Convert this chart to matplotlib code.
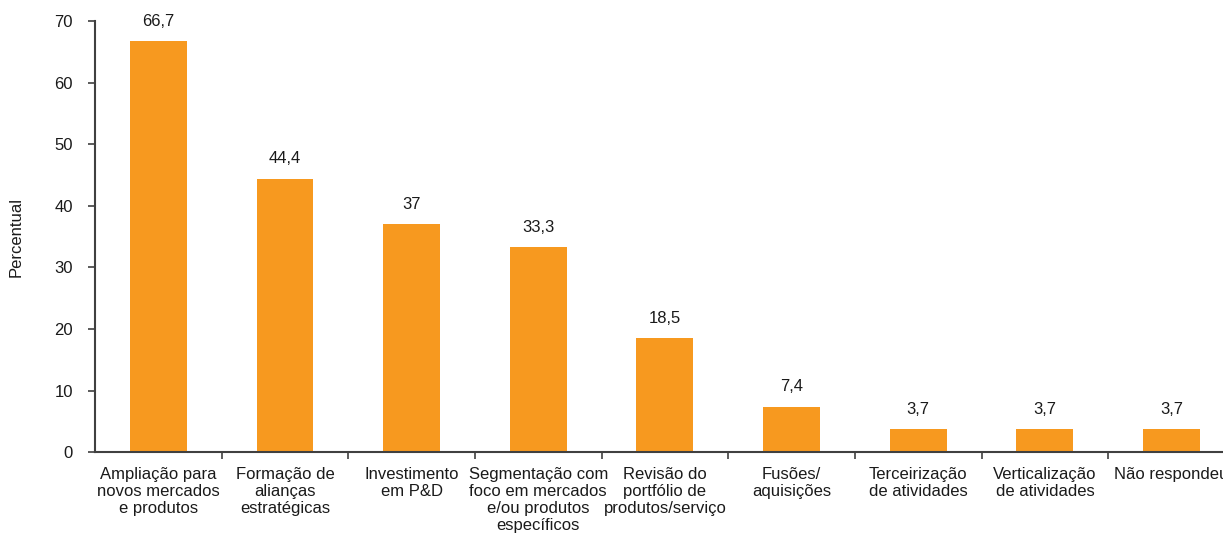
import matplotlib.pyplot as plt
import numpy as np

plt.rcParams['font.family'] = ['Liberation Sans', 'DejaVu Sans']

# categorias e valores (percentual)
categorias = [
    'Ampliação para\nnovos mercados\ne produtos',
    'Formação de\nalianças\nestratégicas',
    'Investimento\nem P&D',
    'Segmentação com\nfoco em mercados\ne/ou produtos\nespecíficos',
    'Revisão do\nportfólio de\nprodutos/serviço',
    'Fusões/\naquisições',
    'Terceirização\nde atividades',
    'Verticalização\nde atividades',
    'Não respondeu',
]
valores = [66.7, 44.4, 37, 33.3, 18.5, 7.4, 3.7, 3.7, 3.7]
rotulos = ['66,7', '44,4', '37', '33,3', '18,5', '7,4', '3,7', '3,7', '3,7']

fig = plt.figure(figsize=(12.23, 5.35), dpi=100)
# eixo maior que a figura: a última categoria fica cortada à direita
ax = fig.add_axes([0.0777, 0.155, 0.932, 0.8056])

x = np.arange(len(categorias))
barras = ax.bar(x, valores, width=0.45, color='#F7991F')

for b, r in zip(barras, rotulos):
    ax.annotate(r, (b.get_x() + b.get_width() / 2, b.get_height()),
                xytext=(0, 9), textcoords='offset points',
                ha='center', va='bottom', fontsize=12, color='#1a1a1a')

ax.set_xlim(-0.5, len(categorias) - 0.5)
ax.set_ylim(0, 70)
ax.set_yticks(range(0, 71, 10))
ax.set_xticks(x)
ax.set_xticklabels(categorias, fontsize=12, linespacing=1.15, color='#1a1a1a')
ax.tick_params(axis='x', length=0, pad=11)
ax.set_xticks(np.arange(0.5, len(categorias) - 0.5, 1), minor=True)
ax.tick_params(axis='x', which='minor', length=5, width=1.2, color='#404040', direction='out')
ax.tick_params(axis='y', length=5, width=1.2, color='#404040', labelsize=12, labelcolor='#1a1a1a', pad=11)

for s in ['top', 'right']:
    ax.spines[s].set_visible(False)
for s in ['left', 'bottom']:
    ax.spines[s].set_color('#404040')
    ax.spines[s].set_linewidth(1.5)

ax.set_ylabel('Percentual', fontsize=12, color='#1a1a1a', labelpad=22)

fig.savefig('out.png', dpi=100)
